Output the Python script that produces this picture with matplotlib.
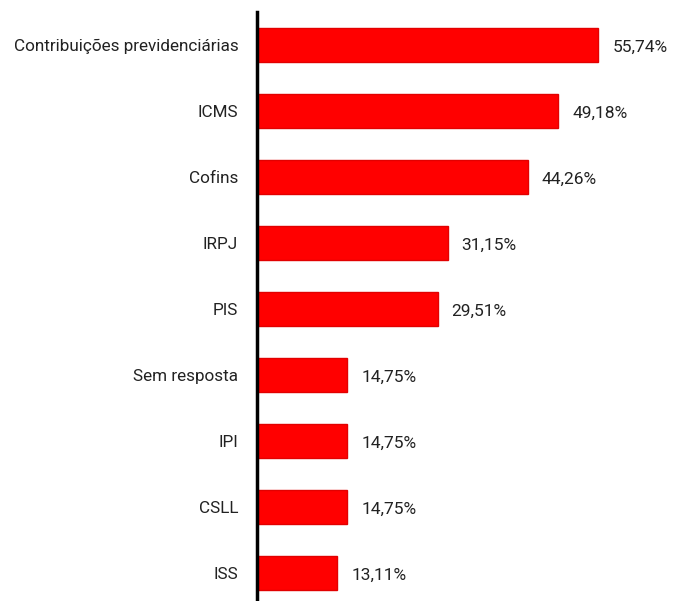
import matplotlib
matplotlib.use("Agg")
import matplotlib.pyplot as plt

plt.rcParams["font.family"] = ["Roboto", "DejaVu Sans"]

categories = ["Contribuições previdenciárias", "ICMS", "Cofins", "IRPJ", "PIS",
              "Sem resposta", "IPI", "CSLL", "ISS"]
values = [55.74, 49.18, 44.26, 31.15, 29.51, 14.75, 14.75, 14.75, 13.11]
value_labels = ["55,74%", "49,18%", "44,26%", "31,15%", "29,51%",
                "14,75%", "14,75%", "14,75%", "13,11%"]

W, H = 674, 601
fig = plt.figure(figsize=(W / 100, H / 100), dpi=100)
left_px, right_px, top_px, bottom_px = 257, 674, 12, 601
ax = fig.add_axes([left_px / W, 1 - bottom_px / H, (right_px - left_px) / W, (bottom_px - top_px) / H])

pos = list(range(len(categories)))
ax.barh(pos, values, height=0.52, color="#ff0000", edgecolor="#e20000", linewidth=1.0)
ax.set_ylim(8 + 28 / 66, -0.5)
ax.set_xlim(0, (right_px - left_px) / 6.12)

for p, v, lab in zip(pos, values, value_labels):
    ax.text(v + 2.3, p + 0.03, lab, va="center", ha="left", fontsize=12.5, color="#222222")

ax.set_yticks(pos)
ax.set_yticklabels(categories, fontsize=12.3, color="#222222")
ax.tick_params(axis="y", length=0, pad=13.5)
ax.set_xticks([])
for s in ["top", "right", "bottom"]:
    ax.spines[s].set_visible(False)
ax.spines["left"].set_linewidth(2.5)
ax.spines["left"].set_color("black")

fig.savefig("out.png", dpi=100)
